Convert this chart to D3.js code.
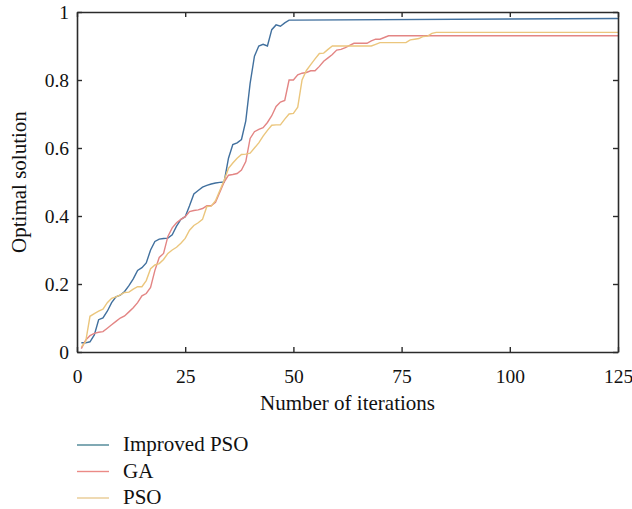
<!DOCTYPE html>
<html>
<head>
<meta charset="utf-8">
<script src="https://cdn.jsdelivr.net/npm/d3@7"></script>
<style>
    body { margin: 0; background: #fff; }
</style>
</head>
<body>
<svg width="632" height="509"></svg>
<script>
"use strict";

// [iteration, optimal solution]
var improvedPso = [
    [1, 0.027], [2, 0.027], [3, 0.03], [4, 0.05], [5, 0.095], [6, 0.1],
    [7, 0.12], [8, 0.145], [9, 0.162], [10, 0.167], [11, 0.178],
    [12, 0.195], [13, 0.215], [14, 0.24], [15, 0.248], [16, 0.262],
    [17, 0.3], [18, 0.325], [19, 0.332], [20, 0.334], [21, 0.335],
    [22, 0.345], [23, 0.37], [24, 0.39], [25, 0.398], [26, 0.43],
    [27, 0.465], [28, 0.475], [29, 0.485], [30, 0.49], [31, 0.494],
    [32, 0.497], [33, 0.499], [34, 0.5], [35, 0.57], [36, 0.61],
    [37, 0.615], [38, 0.625], [39, 0.68], [40, 0.79], [41, 0.87],
    [42, 0.9], [43, 0.905], [44, 0.9], [45, 0.948], [46, 0.962],
    [47, 0.958], [48, 0.968], [49, 0.976], [50, 0.976], [125, 0.981]
];
var ga = [
    [1, 0.01], [2, 0.035], [3, 0.048], [4, 0.055], [5, 0.058], [6, 0.06],
    [7, 0.07], [8, 0.08], [9, 0.09], [10, 0.1], [11, 0.106], [12, 0.118],
    [13, 0.13], [14, 0.145], [15, 0.165], [16, 0.172], [17, 0.19],
    [18, 0.24], [19, 0.278], [20, 0.29], [21, 0.34], [22, 0.365],
    [23, 0.38], [24, 0.39], [25, 0.398], [26, 0.413], [27, 0.416],
    [28, 0.418], [29, 0.422], [30, 0.43], [31, 0.43], [32, 0.44],
    [33, 0.47], [34, 0.5], [35, 0.52], [36, 0.522], [37, 0.525],
    [38, 0.535], [39, 0.56], [40, 0.628], [41, 0.648], [42, 0.655],
    [43, 0.66], [44, 0.675], [45, 0.695], [46, 0.722], [47, 0.735],
    [48, 0.74], [49, 0.8], [50, 0.8], [51, 0.815], [52, 0.82],
    [53, 0.822], [54, 0.827], [55, 0.827], [56, 0.84], [57, 0.855],
    [58, 0.865], [59, 0.875], [60, 0.888], [61, 0.89], [62, 0.895],
    [63, 0.902], [64, 0.908], [67, 0.908], [68, 0.915], [69, 0.92],
    [70, 0.92], [71, 0.925], [72, 0.93], [125, 0.93]
];
var pso = [
    [1, 0.015], [2, 0.03], [3, 0.105], [4, 0.113], [5, 0.12], [6, 0.126],
    [7, 0.145], [8, 0.158], [9, 0.162], [10, 0.168], [11, 0.175],
    [12, 0.176], [13, 0.185], [14, 0.192], [15, 0.192], [16, 0.21],
    [17, 0.245], [18, 0.256], [19, 0.26], [20, 0.272], [21, 0.29],
    [22, 0.3], [23, 0.308], [24, 0.32], [25, 0.334], [26, 0.358],
    [27, 0.372], [28, 0.38], [29, 0.39], [30, 0.428], [31, 0.429],
    [32, 0.445], [33, 0.475], [34, 0.505], [35, 0.54], [36, 0.556],
    [37, 0.57], [38, 0.581], [39, 0.582], [40, 0.585], [41, 0.6],
    [42, 0.615], [43, 0.635], [44, 0.652], [45, 0.667], [46, 0.668],
    [47, 0.668], [48, 0.685], [49, 0.7], [50, 0.702], [51, 0.72],
    [52, 0.8], [53, 0.828], [54, 0.845], [55, 0.862], [56, 0.878],
    [57, 0.879], [58, 0.89], [59, 0.9], [68, 0.9], [69, 0.905],
    [70, 0.91], [76, 0.91], [77, 0.918], [78, 0.92], [79, 0.922],
    [80, 0.928], [81, 0.929], [82, 0.937], [83, 0.94], [125, 0.94]
];

var seriesNames = ["Improved PSO", "GA", "PSO"];
var seriesData = [improvedPso, ga, pso];
var seriesColors = ["#41709e", "#e38584", "#ebc67d"];
var legendColors = ["#4a8494", "#eb8a86", "#e8cb93"];
var xTicks = [0, 25, 50, 75, 100, 125];
var yTicks = [0, 0.2, 0.4, 0.6, 0.8, 1];

(function () {
    var serif = "'Liberation Serif', 'Times New Roman', serif";
    var svg = d3.select("svg").attr("font-family", serif);
    var pad = {left: 77, right: 618, top: 12, bottom: 352};
    var tickLen = 5;

    var x = d3.scaleLinear().domain([0, 125]).range([pad.left, pad.right]);
    var y = d3.scaleLinear().domain([0, 1]).range([pad.bottom, pad.top]);

    var line = d3.line()
        .x(function (d) { return x(d[0]); })
        .y(function (d) { return y(d[1]); });

    var plot = svg.append("g");
    seriesData.forEach(function (d, i) {
        plot.append("path")
            .datum(d)
            .attr("fill", "none")
            .attr("stroke", seriesColors[i])
            .attr("stroke-width", 1.4)
            .attr("d", line);
    });

    // axes: ticks point into the plot on all four sides
    var axisColor = "#2b2b2b";
    var fmtY = function (v) {
        return v === 0 || v === 1 ? String(v) : v.toFixed(1);
    };

    var bottomAxis = svg.append("g")
        .attr("transform", "translate(0," + pad.bottom + ")")
        .call(d3.axisBottom(x).tickValues(xTicks).tickSizeInner(-tickLen)
            .tickSizeOuter(0).tickPadding(17));
    var topAxis = svg.append("g")
        .attr("transform", "translate(0," + pad.top + ")")
        .call(d3.axisTop(x).tickValues(xTicks).tickSizeInner(-tickLen)
            .tickSizeOuter(0).tickFormat(""));
    var leftAxis = svg.append("g")
        .attr("transform", "translate(" + pad.left + ",0)")
        .call(d3.axisLeft(y).tickValues(yTicks).tickSizeInner(-tickLen)
            .tickSizeOuter(0).tickPadding(8).tickFormat(fmtY));
    var rightAxis = svg.append("g")
        .attr("transform", "translate(" + pad.right + ",0)")
        .call(d3.axisRight(y).tickValues(yTicks).tickSizeInner(-tickLen)
            .tickSizeOuter(0).tickFormat(""));

    [bottomAxis, topAxis, leftAxis, rightAxis].forEach(function (g) {
        g.attr("font-family", serif).attr("font-size", 19.5);
        g.select(".domain").attr("stroke", axisColor).attr("stroke-width", 1.6);
        g.selectAll(".tick line")
            .attr("stroke", axisColor).attr("stroke-width", 1.4);
        g.selectAll(".tick text").attr("fill", "#111");
    });

    svg.append("text")
        .attr("x", (pad.left + pad.right) / 2)
        .attr("y", 410)
        .attr("text-anchor", "middle")
        .attr("font-size", 21)
        .attr("fill", "#111")
        .text("Number of iterations");

    svg.append("text")
        .attr("transform", "translate(26," + ((pad.top + pad.bottom) / 2) +
                ") rotate(-90)")
        .attr("text-anchor", "middle")
        .attr("font-size", 21)
        .attr("fill", "#111")
        .text("Optimal solution");

    var legend = svg.append("g");
    seriesNames.forEach(function (name, i) {
        var ly = 445 + i * 26.5;
        legend.append("line")
            .attr("x1", 77).attr("x2", 109)
            .attr("y1", ly).attr("y2", ly)
            .attr("stroke", legendColors[i])
            .attr("stroke-width", 1.4);
        legend.append("text")
            .attr("x", 123)
            .attr("y", ly + 6)
            .attr("font-size", 21)
            .attr("fill", "#111")
            .text(name);
    });
}());
</script>
</body>
</html>
